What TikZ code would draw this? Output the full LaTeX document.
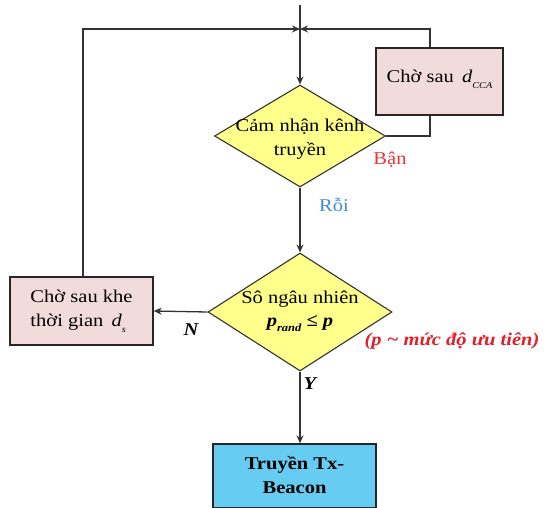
\documentclass[tikz,border=0pt]{standalone}
\usepackage{fontspec}
\setmainfont{Liberation Serif}[FakeStretch=1.14]
\usetikzlibrary{shapes.geometric,arrows.meta}
\definecolor{decisionyellow}{HTML}{FFFF8C}
\definecolor{waitpink}{HTML}{F2DCDB}
\definecolor{sendblue}{HTML}{66CCF2}
\definecolor{busyred}{HTML}{E8343A}
\definecolor{idleblue}{HTML}{3C8ED4}
\definecolor{noteRed}{HTML}{E0202A}
% small lowered subscript used after italic symbols
\newcommand{\lowsub}[1]{\raisebox{-0.35em}{\fontsize{9}{9}\selectfont\itshape #1}}
\begin{document}
\begin{tikzpicture}[x=1pt,y=-1pt,
  every node/.style={font=\fontsize{18}{24}\selectfont},
  decision/.style={diamond, draw=black!80, fill=decisionyellow, line width=1.1pt, inner sep=0pt},
  waitbox/.style={rectangle, draw=black!85, fill=waitpink, line width=1.3pt, inner sep=0pt},
  sendbox/.style={rectangle, draw=black!85, fill=sendblue, line width=1.3pt, inner sep=0pt},
  txt/.style={align=center, inner sep=0pt},
  flow/.style={draw=black!80, line width=1.3pt, -{Stealth[length=8pt,width=7pt]}},
  link/.style={draw=black!80, line width=1.3pt}
]
\useasboundingbox (0,0) rectangle (551,508);

% boxes and decisions
\node[decision, minimum width=171pt, minimum height=102pt] (sense) at (300,136) {};
\node[txt] (senseT) at (300,139) {Cảm nhận kênh\\truyền};

\node[decision, minimum width=184pt, minimum height=118pt] (rand) at (300,312) {};
\node[txt] (randT) at (300,311) {Sô ngâu nhiên\\[-1pt]{\bfseries\itshape p\raisebox{-0.3em}{\fontsize{11}{11}\selectfont rand}} {\bfseries ≤} {\bfseries\itshape p}};

\node[waitbox, minimum width=127pt, minimum height=67pt] (cca) at (439.5,81.5) {};
\node[txt] (ccaT) at (439.5,79) {Chờ sau\, {\itshape d}\lowsub{CCA}};

\node[waitbox, minimum width=143pt, minimum height=68pt] (slot) at (81.5,311) {};
\node[txt, align=left] (slotT) at (81.5,311) {Chờ sau khe\\thời gian\, {\itshape d}\lowsub{s}};

\node[sendbox, minimum width=163pt, minimum height=64pt] (send) at (294.5,476) {};
\node[txt, font=\fontsize{18}{24}\selectfont\bfseries] (sendT) at (294.5,475) {Truyền Tx-\\Beacon};

% junction points on the main line
\coordinate (entry) at (300,5);
\coordinate (merge) at (300,29);

% connectors
\draw[flow] (entry) -- (sense.north);
\draw[flow] (sense.south) -- (rand.north);
\draw[link] (sense.east) -| ([xshift=-9.5pt]cca.south);
\draw[flow] ([xshift=-9.5pt]cca.north) |- (merge);
\draw[flow] ([xshift=1.5pt]slot.north) |- (merge);
\draw[flow] (rand.west) -- (slot.east);
\draw[flow] (rand.south) -- (rand.south |- send.north);

% branch labels
\node[txt, text=busyred] (busy) at (390,160) {Bận};
\node[txt, text=idleblue] (idle) at (334,205) {Rỗi};
\node[txt, font=\fontsize{18}{24}\selectfont\bfseries\itshape] (no) at (191,330) {N};
\node[txt, font=\fontsize{18}{24}\selectfont\bfseries\itshape] (yes) at (310,384) {Y};
\node[txt, text=noteRed, font=\fontsize{18}{22}\selectfont\bfseries\itshape] (note) at (452,341) {(p \char"007E\ mức độ ưu tiên)};
\end{tikzpicture}
\end{document}
